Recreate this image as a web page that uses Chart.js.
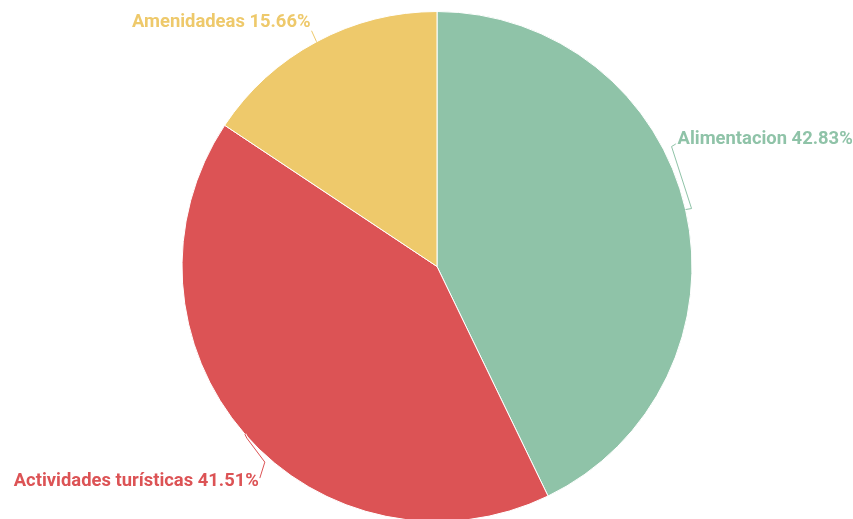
<!DOCTYPE html>
<html>
<head>
<meta charset="utf-8">
<script src="https://cdn.jsdelivr.net/npm/chart.js@4"></script>
<style>
  html, body { margin: 0; padding: 0; background: #fff; overflow: hidden; }
  #wrap { width: 853px; height: 522px; position: relative; }
</style>
</head>
<body>
<div id="wrap"><canvas id="myChart"></canvas></div>
<script>
// data
var labels = ['Alimentacion', 'Actividades turísticas', 'Amenidadeas'];
var values = [42.83, 41.51, 15.66];
var colors = ['#8fc3a8', '#dc5355', '#eec96b'];

// label placement: leader polyline offsets from the slice edge point, text side
var leaders = [
    { pts: [[0, 0], [6, -1], [-14, -63], [-9, -66]], align: 'left', dy: -4 },
    { pts: [[0, 0], [2, 4], [20, 28], [15, 44]], align: 'right', dy: 3 },
    { pts: [[0, 0], [-5, -11]], align: 'right', dy: -8 }
];

var outsideLabels = {
    id: 'outsideLabels',
    afterDatasetsDraw: function (chart) {
        var ctx = chart.ctx;
        var meta = chart.getDatasetMeta(0);
        ctx.save();
        ctx.font = 'bold 18.4px Roboto';
        ctx.textBaseline = 'middle';
        meta.data.forEach(function (arc, i) {
            var mid = (arc.startAngle + arc.endAngle) / 2;
            var ax = arc.x + Math.cos(mid) * arc.outerRadius;
            var ay = arc.y + Math.sin(mid) * arc.outerRadius;
            var pts = leaders[i].pts.map(function (p) { return [ax + p[0], ay + p[1]]; });

            // white halo then coloured line
            ['#ffffff', colors[i]].forEach(function (c, k) {
                ctx.beginPath();
                pts.forEach(function (p, j) {
                    if (j === 0) ctx.moveTo(p[0], p[1]); else ctx.lineTo(p[0], p[1]);
                });
                ctx.strokeStyle = c;
                ctx.lineWidth = k === 0 ? 3 : 1;
                ctx.stroke();
            });

            var end = pts[pts.length - 1];
            var txt = labels[i] + ' ' + values[i].toFixed(2) + '%';
            ctx.textAlign = leaders[i].align;
            var tx = leaders[i].align === 'left' ? end[0] + 1 : end[0] - 1;
            var ty = end[1] + leaders[i].dy;
            ctx.lineWidth = 3;
            ctx.strokeStyle = '#ffffff';
            ctx.strokeText(txt, tx, ty);
            ctx.fillStyle = colors[i];
            ctx.fillText(txt, tx, ty);
        });
        ctx.restore();
    }
};

var chart = new Chart(document.getElementById('myChart').getContext('2d'), {
    type: 'pie',
    data: {
        labels: labels,
        datasets: [{
            data: values,
            backgroundColor: colors,
            borderColor: '#ffffff',
            borderWidth: 1
        }]
    },
    options: {
        responsive: true,
        maintainAspectRatio: false,
        animation: false,
        rotation: 0,
        layout: { padding: { top: 11, bottom: 0, left: 21, right: 0 } },
        plugins: {
            legend: { display: false },
            tooltip: { enabled: false }
        }
    },
    plugins: [outsideLabels]
});
</script>
</body>
</html>
